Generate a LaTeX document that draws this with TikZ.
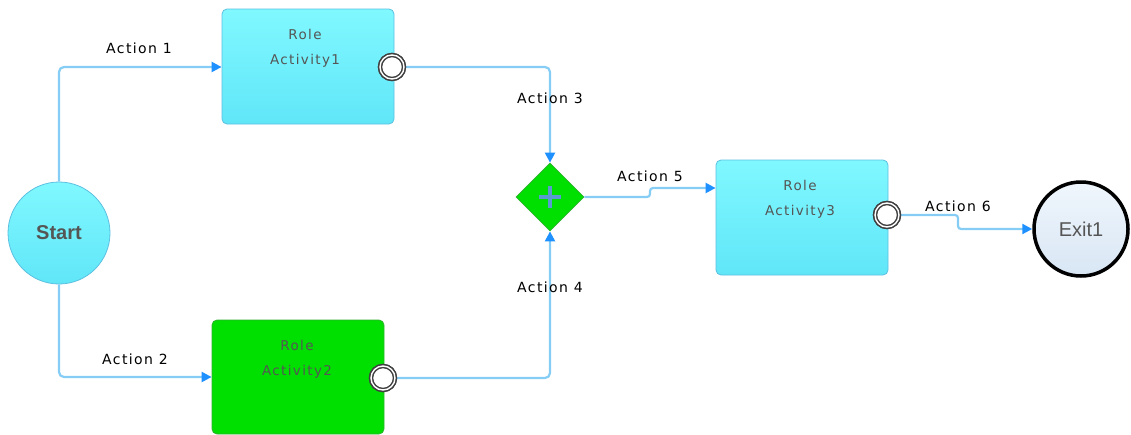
\documentclass[tikz,border=0pt]{standalone}
\usepackage{fontspec}
\setmainfont{DejaVu Sans}
\newfontfamily\pixfont[LetterSpace=10]{DejaVu Sans}
\newfontfamily\arialf{Liberation Sans}
\usetikzlibrary{arrows.meta,shapes.geometric,calc}
\definecolor{cyantop}{HTML}{80F8FF}
\definecolor{cyanbot}{HTML}{60E6F8}
\definecolor{cyanedge}{HTML}{5CC0E0}
\definecolor{gwgreen}{HTML}{00E000}
\definecolor{gwedge}{HTML}{30B030}
\definecolor{plusblue}{HTML}{5A9AD0}
\definecolor{linkblue}{HTML}{86CDF5}
\definecolor{tipblue}{HTML}{1E90FF}
\definecolor{txtgray}{HTML}{555555}
\definecolor{exittop}{HTML}{F0F6FC}
\definecolor{exitbot}{HTML}{D8E6F4}
\tikzset{
  actbox/.style={rectangle, rounded corners=5pt, minimum width=172pt, minimum height=115pt, draw=cyanedge, line width=0.8pt, top color=cyantop, bottom color=cyanbot},
  greenbox/.style={rectangle, rounded corners=5pt, minimum width=172pt, minimum height=114pt, draw=gwedge, line width=0.8pt, fill=gwgreen},
  acttext/.style={font=\pixfont\fontsize{13.5}{25}\selectfont, text=txtgray, align=center},
  lbl/.style={font=\pixfont\fontsize{14}{15}\selectfont, text=black},
  endring/.style={circle, minimum size=24pt, inner sep=0pt, draw=black!75, line width=1.5pt, fill=white, double=white, double distance=1.4pt},
  link/.style={draw=linkblue, line width=2.2pt, rounded corners=5pt},
  arr/.style={-{Triangle[length=10pt,width=10pt,color=tipblue]}},
}
\begin{document}
\begin{tikzpicture}[x=1pt,y=-1pt]
\useasboundingbox (0,0) rectangle (1131,434);
% nodes
\node[circle, minimum size=102pt, inner sep=0pt, draw=cyanedge, line width=0.8pt, top color=cyantop, bottom color=cyanbot, font=\arialf\bfseries\fontsize{20}{22}\selectfont, text=txtgray] (start) at (59,233) {Start};
\node[actbox] (a1) at (308,66.5) {};
\node[acttext] (a1t) at (305,48) {Role\\Activity1};
\node[greenbox] (a2) at (298,377) {};
\node[acttext] (a2t) at (297,359) {Role\\Activity2};
\node[actbox] (a3) at (802,217.5) {};
\node[acttext] (a3t) at (800,199) {Role\\Activity3};
\node[diamond, minimum width=68pt, minimum height=68pt, inner sep=0pt, draw=gwedge, line width=0.8pt, fill=gwgreen] (gw) at (550,197) {};
\draw[plusblue, line width=3.5pt] ($(gw.center)+(-11,0)$) -- ($(gw.center)+(11,0)$);
\draw[plusblue, line width=3.5pt] ($(gw.center)+(0,-11)$) -- ($(gw.center)+(0,11)$);
\node[circle, minimum size=94pt, inner sep=0pt, draw=black, line width=3.5pt, top color=exittop, bottom color=exitbot, font=\arialf\fontsize{20}{22}\selectfont, text=txtgray] (exit) at (1081,229) {Exit1};
% connectors
\coordinate (k1) at (59,67);
\coordinate (k2) at (59,377);
\coordinate (k3) at (550,67);
\coordinate (k4) at (550,378);
\coordinate (k5a) at (650,197);
\coordinate (k5b) at (650,188);
\coordinate (k6a) at (958,215);
\coordinate (k6b) at (958,229);
\draw[link, arr] (start.north) -- (k1) -- (a1.west |- k1);
\draw[link, arr] (start.south) -- (k2) -- (a2.west |- k2);
\node[endring] (c1) at (392,67) {};
\node[endring] (c2) at (383,378) {};
\node[endring] (c3) at (887,215) {};
\draw[link, arr] (c1.east) -- (k3) -- (gw.north);
\draw[link, arr] (c2.east) -- (k4) -- (gw.south);
\draw[link, rounded corners=3pt, arr] (gw.east) -- (k5a) -- (k5b) -- (a3.west |- k5b);
\draw[link, rounded corners=3pt, arr] (c3.east) -- (k6a) -- (k6b) -- (exit.west);
\node[endring] at (c1) {};
\node[endring] at (c2) {};
\node[endring] at (c3) {};
% labels
\node[lbl] (l1) at (139,48) {Action 1};
\node[lbl] (l2) at (135,359) {Action 2};
\node[lbl] (l3) at (550,98) {Action 3};
\node[lbl] (l4) at (550,287) {Action 4};
\node[lbl] (l5) at (650,176) {Action 5};
\node[lbl] (l6) at (958,206) {Action 6};
\end{tikzpicture}
\end{document}
